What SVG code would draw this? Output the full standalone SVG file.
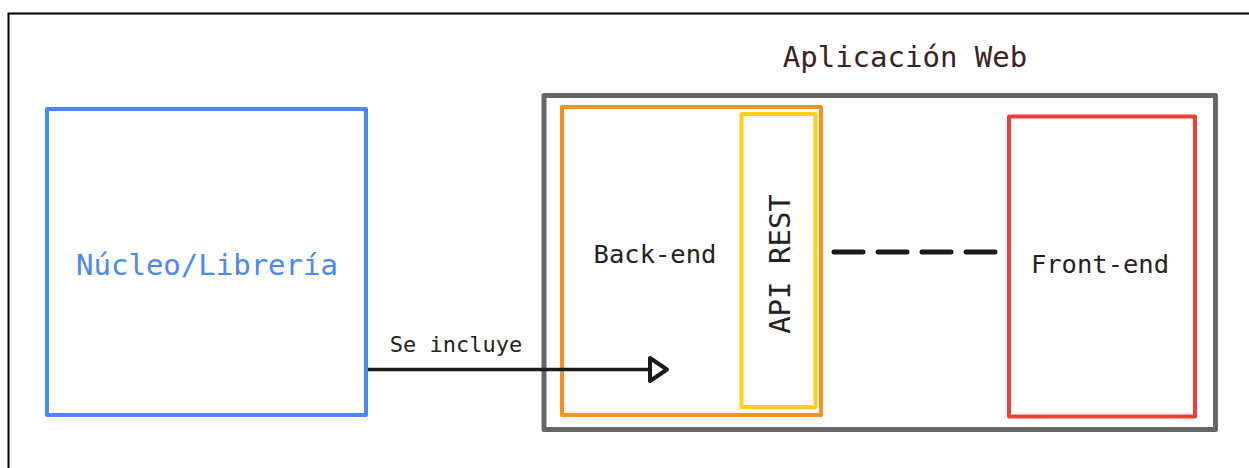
<svg xmlns="http://www.w3.org/2000/svg" width="1249" height="468" viewBox="0 0 1249 468">
<style>
  text { font-family: "DejaVu Sans Mono", "Liberation Mono", monospace; }
  .box { fill: none; stroke-width: 4; stroke-linejoin: round; }
  .lbl { fill: #222222; text-anchor: middle; }
</style>
<rect width="1249" height="468" fill="#ffffff"/>
<path d="M8.5,468 V13.5 H1249" fill="none" stroke="#000000" stroke-width="2"/>

<g id="title">
  <text x="905" y="67" font-size="29" fill="#3b2222" text-anchor="middle">Aplicación Web</text>
</g>

<g id="nucleo">
  <rect class="box" x="47" y="109" width="319" height="306" stroke="#4a89f3"/>
  <text x="207" y="275" font-size="29" fill="#4a89f3" text-anchor="middle">Núcleo/Librería</text>
</g>

<g id="aplicacion-web">
  <rect x="544" y="95.5" width="671.5" height="334" fill="none" stroke="#666666" stroke-width="5" stroke-linejoin="round"/>
</g>

<g id="backend">
  <rect class="box" x="562" y="107" width="259" height="308" stroke="#f7931e"/>
  <text class="lbl" x="655" y="263" font-size="25.5">Back-end</text>
</g>

<g id="api-rest">
  <rect class="box" x="741.5" y="114" width="74" height="293" stroke="#fecf1a" stroke-width="5"/>
  <text class="lbl" x="0" y="0" font-size="29" transform="translate(790,264) rotate(-90)">API REST</text>
</g>

<g id="frontend">
  <rect class="box" x="1009" y="116.5" width="186" height="300" stroke="#ee4035"/>
  <text class="lbl" x="1100" y="273" font-size="25.5">Front-end</text>
</g>

<g id="connectors">
  <line x1="368" y1="369.5" x2="650" y2="369.5" stroke="#1a1a1a" stroke-width="3.5"/>
  <path d="M650,358 L667,369.5 L650,381 Z" fill="#ffffff" stroke="#1a1a1a" stroke-width="4" stroke-linejoin="round"/>
  <text class="lbl" x="456" y="352" font-size="22">Se incluye</text>
  <line x1="834" y1="252" x2="996" y2="252" stroke="#1a1a1a" stroke-width="5" stroke-linecap="round" stroke-dasharray="29 15"/>
</g>
</svg>
